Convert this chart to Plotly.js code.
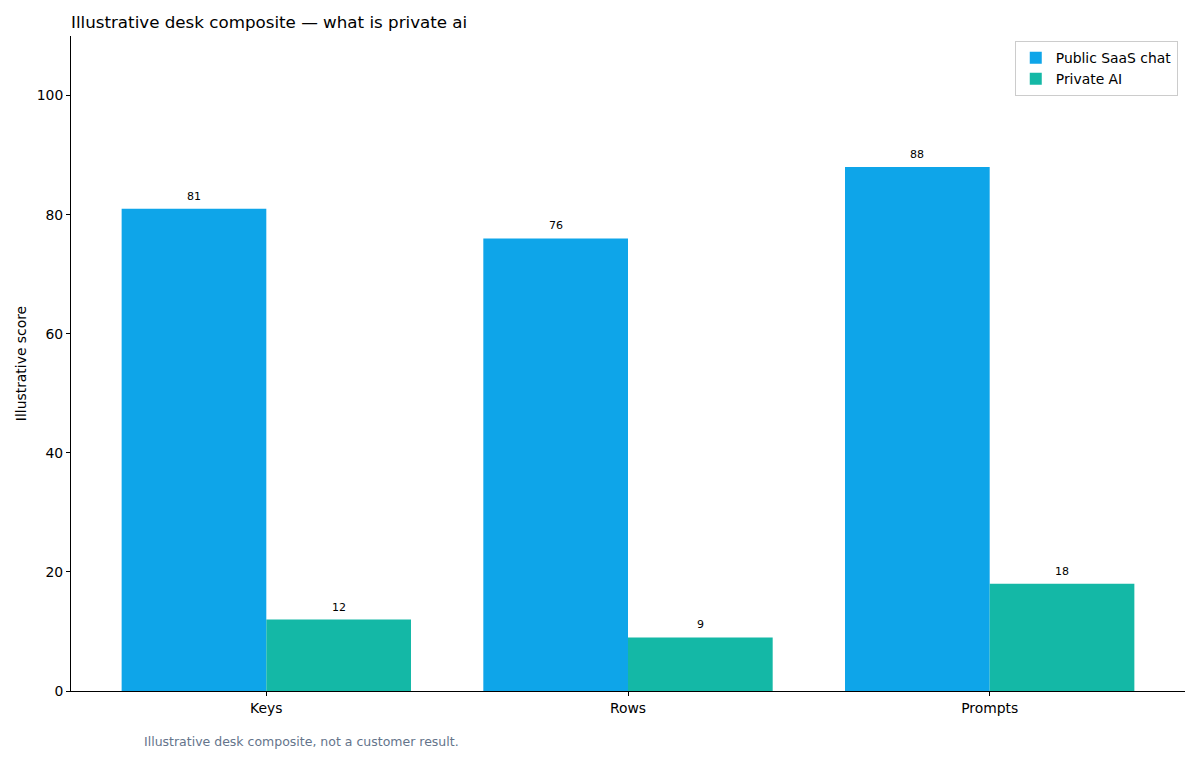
<!DOCTYPE html>
<html>
<head>
<meta charset="utf-8">
<script src="https://cdn.plot.ly/plotly-3.0.1.min.js"></script>
<style>
  html, body { margin: 0; padding: 0; background: #ffffff; }
  #chart { width: 1200px; height: 760px; }
</style>
</head>
<body>
<div id="chart"></div>
<script>
// data
var categories = ["Keys", "Rows", "Prompts"];
var seriesNames = ["Public SaaS chat", "Private AI"];
var publicSaas = [81, 76, 88];
var privateAi = [12, 9, 18];
var yTicks = [0, 20, 40, 60, 80, 100];

var colors = ["#0ea5e9", "#14b8a6"];
var font = "DejaVu Sans, sans-serif";

var traces = [
  {
    type: "bar",
    name: seriesNames[0],
    x: categories,
    y: publicSaas,
    marker: { color: colors[0], line: { width: 0 } },
    hoverinfo: "x+y+name"
  },
  {
    type: "bar",
    name: seriesNames[1],
    x: categories,
    y: privateAi,
    marker: { color: colors[1], line: { width: 0 } },
    hoverinfo: "x+y+name"
  }
];

// value labels above every bar
var annotations = [];
var groups = [publicSaas, privateAi];
for (var s = 0; s < groups.length; s++) {
  for (var i = 0; i < categories.length; i++) {
    annotations.push({
      x: categories[i],
      y: groups[s][i],
      xref: "x",
      yref: "y",
      text: String(groups[s][i]),
      showarrow: false,
      xshift: s == 0 ? -72.5 : 72.5,
      yanchor: "bottom",
      yshift: 4,
      font: { family: font, size: 11, color: "#000000" }
    });
  }
}

// footnote under the plot
annotations.push({
  xref: "paper",
  yref: "paper",
  x: (142 - 71) / 1114,
  y: -0.077,
  xanchor: "left",
  yanchor: "middle",
  text: "Illustrative desk composite, not a customer result.",
  showarrow: false,
  font: { family: font, size: 12.5, color: "#64748b" }
});

var layout = {
  width: 1200,
  height: 760,
  paper_bgcolor: "#ffffff",
  plot_bgcolor: "#ffffff",
  font: { family: font, size: 14, color: "#000000" },
  margin: { l: 71, r: 15, t: 36, b: 69, pad: 0 },
  title: {
    text: "Illustrative desk composite — what is private ai",
    x: 71 / 1200,
    xanchor: "left",
    y: 1 - 22 / 760,
    yanchor: "middle",
    font: { family: font, size: 16.7, color: "#000000" }
  },
  barmode: "group",
  bargap: 0.2,
  bargroupgap: 0,
  xaxis: {
    type: "category",
    range: [-0.54, 2.54],
    showline: true,
    linecolor: "#000000",
    linewidth: 1,
    ticks: "outside",
    ticklen: 4,
    tickcolor: "#000000",
    showgrid: false,
    zeroline: false,
    tickfont: { family: font, size: 13.9, color: "#000000" }
  },
  yaxis: {
    range: [0, 110],
    tickvals: yTicks,
    showline: true,
    linecolor: "#000000",
    linewidth: 1,
    ticks: "outside",
    ticklen: 4,
    tickcolor: "#000000",
    showgrid: false,
    zeroline: false,
    tickfont: { family: font, size: 13.9, color: "#000000" },
    title: {
      text: "Illustrative score",
      standoff: 6,
      font: { family: font, size: 13.9, color: "#000000" }
    }
  },
  showlegend: true,
  legend: {
    x: 0.9935,
    y: 0.992,
    xanchor: "right",
    yanchor: "top",
    bgcolor: "rgba(255,255,255,0.8)",
    bordercolor: "#cccccc",
    borderwidth: 1,
    tracegroupgap: 0,
    font: { family: font, size: 13.9, color: "#000000" },
    traceorder: "normal"
  },
  annotations: annotations
};

Plotly.newPlot("chart", traces, layout, { displayModeBar: false, staticPlot: true });
</script>
</body>
</html>
